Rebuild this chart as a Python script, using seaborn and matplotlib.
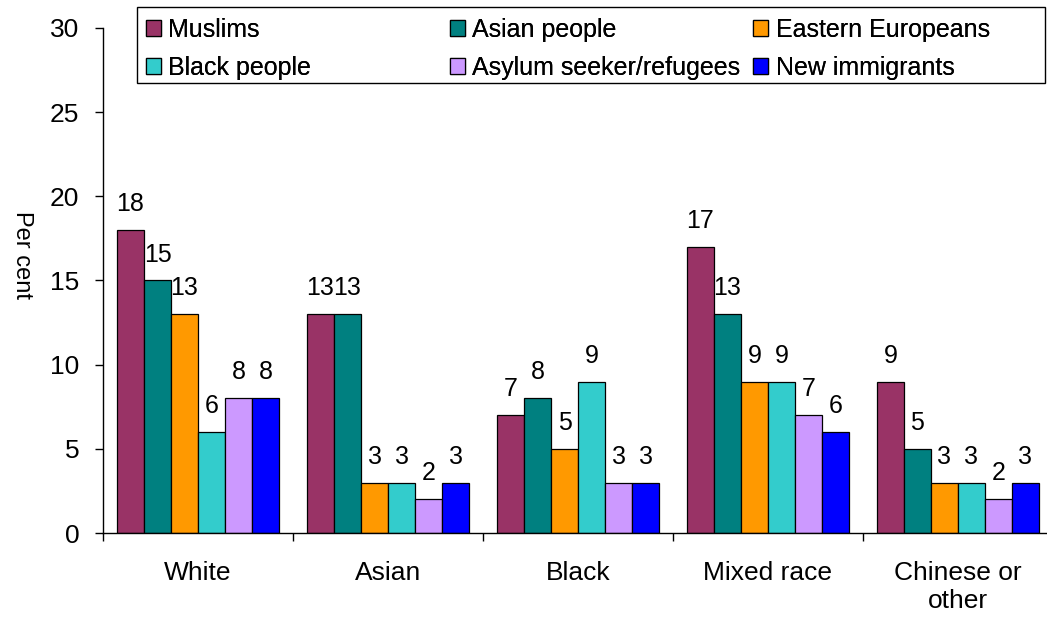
import matplotlib
matplotlib.use("Agg")
import matplotlib.pyplot as plt
from matplotlib.patches import Rectangle
import seaborn as sns
import pandas as pd

# Ethnic group of respondent
groups = ["White", "Asian", "Black", "Mixed race", "Chinese or\nother"]
# Target groups of reported prejudice
targets = ["Muslims", "Asian people", "Eastern Europeans",
           "Black people", "Asylum seeker/refugees", "New immigrants"]

muslims = [18, 13, 7, 17, 9]
asian_people = [15, 13, 8, 13, 5]
eastern_europeans = [13, 3, 5, 9, 3]
black_people = [6, 3, 9, 9, 3]
asylum_seekers = [8, 2, 3, 7, 2]
new_immigrants = [8, 3, 3, 6, 3]

series = [muslims, asian_people, eastern_europeans,
          black_people, asylum_seekers, new_immigrants]
colors = ["#993366", "#008080", "#FF9900", "#33CCCC", "#CC99FF", "#0000FF"]

rows = []
for t, vals in zip(targets, series):
    for g, v in zip(groups, vals):
        rows.append({"group": g, "target": t, "value": v})
df = pd.DataFrame(rows)

sns.set_style("white")
plt.rcParams["font.family"] = ["Liberation Sans", "DejaVu Sans"]
plt.rcParams["text.color"] = "black"
plt.rcParams["axes.labelcolor"] = "black"
plt.rcParams["xtick.color"] = "black"
plt.rcParams["ytick.color"] = "black"

fig = plt.figure(figsize=(10.47, 6.19), dpi=100)
ax = fig.add_axes([0.0984, 0.1389, 0.9073, 0.8159])

sns.barplot(data=df, x="group", y="value", hue="target",
            order=groups, hue_order=targets, palette=colors,
            width=0.853, edgecolor="black", linewidth=0.9,
            saturation=1, ax=ax, legend=True)

for cont in ax.containers:
    ax.bar_label(cont, fmt="%d", padding=10, fontsize=18)

ax.set_ylim(0, 30)
ax.set_xlim(-0.5, 4.5)
ax.set_yticks(range(0, 31, 5))
ax.tick_params(axis="y", labelsize=19, length=6, width=1, direction="out",
               left=True, pad=11)
ax.set_xticks(range(len(groups)))
ax.set_xticklabels(groups, fontsize=19)
ax.tick_params(axis="x", which="major", length=0, pad=20)
ax.set_xticks([i - 0.5 for i in range(len(groups) + 1)], minor=True)
ax.tick_params(axis="x", which="minor", length=6, width=1, direction="out",
               bottom=True)

ax.set_xlabel("")
ax.set_ylabel("Per cent", fontsize=17, rotation=270, va="center")
ax.yaxis.set_label_coords(-0.085, 0.55)

for side in ["top", "right"]:
    ax.spines[side].set_visible(False)
for side in ["left", "bottom"]:
    ax.spines[side].set_color("black")
    ax.spines[side].set_linewidth(1)

# Legend: three columns inside a single framed box
handles, labels = ax.get_legend_handles_labels()
ax.get_legend().remove()
fig.add_artist(Rectangle((137 / 1047, 1 - 83 / 619), 908 / 1047, 76 / 619,
                         transform=fig.transFigure, fill=False,
                         edgecolor="black", linewidth=1))
col_x = [146 / 1047, 450 / 1047, 753 / 1047]
for c in range(3):
    leg = fig.legend([handles[c], handles[c + 3]], [labels[c], labels[c + 3]],
                     loc="upper left", bbox_to_anchor=(col_x[c], 1 - 18 / 619),
                     frameon=False, fontsize=18, borderpad=0, borderaxespad=0,
                     handlelength=0.6, handleheight=0.62, handletextpad=0.3,
                     labelspacing=0.55)
    fig.add_artist(leg)

fig.savefig("out.png", dpi=100)
